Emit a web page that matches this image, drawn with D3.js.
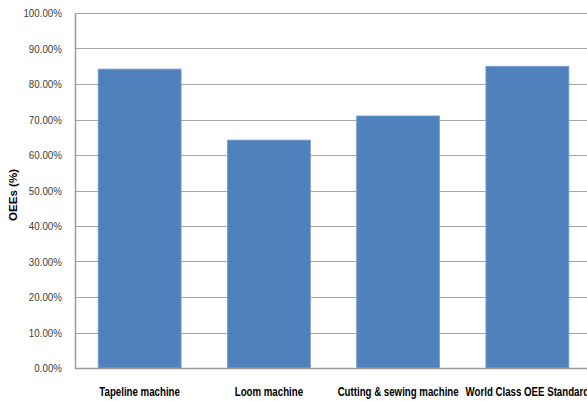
<!DOCTYPE html>
<html>
<head>
<meta charset="utf-8">
<script src="https://cdn.jsdelivr.net/npm/d3@7"></script>
<style>
  body { margin: 0; background: #fff; }
  svg { display: block; }
</style>
</head>
<body>
<div id="wrap"></div>
<script>
// chart data
var categories = ["Tapeline machine", "Loom machine", "Cutting & sewing machine", "World Class OEE Standard"];
var oeeValues = [84.2, 64.2, 71.0, 85.0];
var yTicks = [0, 10, 20, 30, 40, 50, 60, 70, 80, 90, 100];
var yLabel = "OEEs (%)";

var W = 587, H = 401;
var plot = { left: 75, top: 13, right: 592, bottom: 368 };
var font = "'Liberation Sans', Arial, sans-serif";

var svg = d3.select("#wrap").append("svg")
    .attr("width", W)
    .attr("height", H);

// squeeze text horizontally, the original uses a narrow font
var condense = function(sel, k) {
    sel.each(function() {
        var len = this.getComputedTextLength();
        d3.select(this)
            .attr("textLength", len * k)
            .attr("lengthAdjust", "spacingAndGlyphs");
    });
};

var x = d3.scaleBand()
    .domain(categories)
    .range([plot.left, plot.right])
    .paddingInner(0.358)
    .paddingOuter(0.179);

var y = d3.scaleLinear()
    .domain([0, 100])
    .range([plot.bottom, plot.top]);

// gridlines
svg.append("g")
    .selectAll("line")
    .data(yTicks.filter(function(d) { return d > 0; }))
    .enter()
    .append("line")
    .attr("x1", plot.left)
    .attr("x2", W)
    .attr("y1", function(d) { return Math.round(y(d)) + 0.5; })
    .attr("y2", function(d) { return Math.round(y(d)) + 0.5; })
    .attr("stroke", "#a6a6a6")
    .attr("stroke-width", 1.2);

// bars
svg.append("g")
    .selectAll("rect")
    .data(oeeValues)
    .enter()
    .append("rect")
    .attr("x", function(d, i) { return x(categories[i]); })
    .attr("y", function(d) { return y(d); })
    .attr("width", x.bandwidth())
    .attr("height", function(d) { return y(0) - y(d); })
    .attr("fill", "#4f81bd")
    .attr("stroke", "#7da0cc")
    .attr("stroke-width", 0.8);

// y axis
var yAxis = d3.axisLeft(y)
    .tickValues(yTicks)
    .tickSize(0)
    .tickPadding(13)
    .tickFormat(function(d) { return d3.format(".2f")(d) + "%"; });

var ya = svg.append("g")
    .attr("transform", "translate(" + plot.left + ",0)")
    .call(yAxis);
ya.select(".domain").attr("stroke", "#9a9a9a").attr("stroke-width", 1.5);
ya.selectAll("text")
    .attr("fill", "#404040")
    .style("font-family", font)
    .style("font-size", "11.5px")
    .call(condense, 0.85);

// x axis
var xAxis = d3.axisBottom(x).tickSize(0).tickPadding(19);
var xa = svg.append("g")
    .attr("transform", "translate(0," + plot.bottom + ")")
    .call(xAxis);
xa.select(".domain").remove();
xa.append("line")
    .attr("x1", plot.left)
    .attr("x2", W)
    .attr("y1", 0.5)
    .attr("y2", 0.5)
    .attr("stroke", "#9a9a9a")
    .attr("stroke-width", 1.5);
xa.selectAll("text")
    .attr("fill", "#000")
    .style("font-family", font)
    .style("font-weight", "bold")
    .style("font-size", "12px");

// match the width of the longest fitting label in the original (~122px)
var cutLen = xa.selectAll("text").filter(function(d) { return d === categories[2]; }).node().getComputedTextLength();
xa.selectAll("text").call(condense, 121 / cutLen);

// y label
svg.append("text")
    .attr("transform", "translate(17," + 195 + ") rotate(-90)")
    .attr("text-anchor", "middle")
    .style("font-family", font)
    .style("font-weight", "bold")
    .style("font-size", "11px")
    .text(yLabel)
    .call(condense, 1.05);
</script>
</body>
</html>
